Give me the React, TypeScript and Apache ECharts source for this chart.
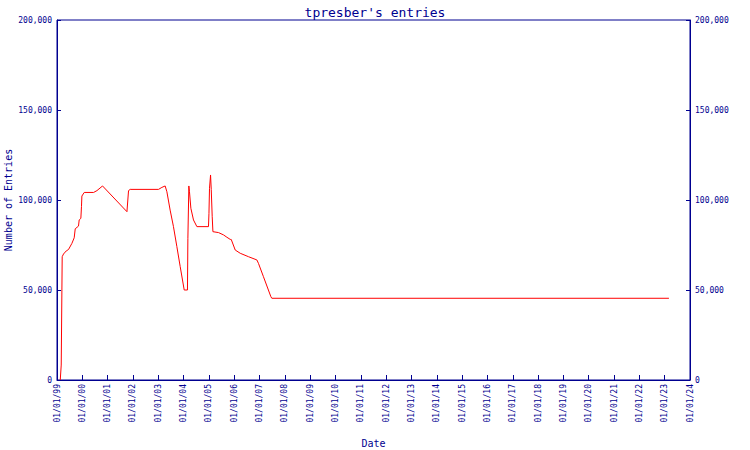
import React, { useEffect, useRef } from "react";
import * as echarts from "echarts";

const TITLE = "tpresber's entries";
const NAVY = "#000090";

const dates = [
  "1999-02-17", "1999-03-03", "1999-03-17", "1999-04-05", "1999-05-14", "1999-06-16",
  "1999-08-04", "1999-09-06", "1999-09-21", "1999-11-07", "1999-11-17", "1999-12-11",
  "1999-12-20", "1999-12-26", "2000-01-29", "2000-06-12", "2000-07-30", "2000-10-19",
  "2001-10-06", "2001-10-29", "2001-11-22", "2003-01-04", "2003-02-22", "2003-04-10",
  "2003-05-05", "2003-06-21", "2003-08-08", "2003-09-26", "2003-11-13", "2004-01-10",
  "2004-02-26", "2004-03-03", "2004-03-17", "2004-03-26", "2004-04-15", "2004-05-23",
  "2004-07-11", "2004-12-25", "2005-01-01", "2005-01-09", "2005-01-24", "2005-02-03",
  "2005-02-17", "2005-02-27", "2005-05-19", "2005-07-30", "2005-09-17", "2005-11-04",
  "2005-11-18", "2006-01-15", "2006-03-28", "2006-07-25", "2006-11-23", "2006-12-16",
  "2007-02-26", "2007-06-13", "2007-06-27", "2023-03-03",
];

const entries = [
  0, 8300, 68500, 70000, 71700, 72500,
  75900, 79000, 84000, 85500, 88900, 89800,
  96300, 102200, 104200, 104200, 105200, 107800,
  93500, 105200, 105900, 105900, 107000, 107800,
  104600, 94400, 85200, 74100, 63000, 50000,
  50000, 78700, 107800, 104600, 95400, 88900,
  85200, 85200, 92600, 106500, 113900, 105900,
  90700, 82400, 81900, 80600, 79300, 78100,
  78100, 72200, 70400, 68500, 66700, 64800,
  57400, 46300, 45400, 45400,
];

const yTicks = [0, 50000, 100000, 150000, 200000];

const FONT = "DejaVu Sans Mono";

function fmtNum(v: number): string {
  return v.toLocaleString("en-US");
}

function fmtDate(v: number): string {
  const d = new Date(v);
  const p = (n: number) => String(n).padStart(2, "0");
  return `${p(d.getMonth() + 1)}/${p(d.getDate())}/${p(d.getFullYear() % 100)}`;
}

export default function App() {
  const ref = useRef<HTMLDivElement>(null);
  useEffect(() => {
    if (!ref.current) return;
    const chart = echarts.init(ref.current, undefined, { renderer: "svg" });
    const DAY = 86400000;
    const yAxisCommon = {
      type: "value" as const,
      min: yTicks[0],
      max: yTicks[yTicks.length - 1],
      interval: yTicks[1] - yTicks[0],
      axisLine: { show: true, lineStyle: { color: NAVY, width: 1 } },
      axisTick: { show: true, inside: true, length: 4, lineStyle: { color: NAVY } },
      splitLine: { show: false },
      axisLabel: {
        color: NAVY,
        fontFamily: FONT,
        fontSize: 8,
        margin: 5,
        formatter: (v: number) => fmtNum(v),
      },
    };
    chart.setOption({
      animation: false,
      backgroundColor: "#ffffff",
      title: {
        text: TITLE,
        left: "center",
        top: 1,
        textStyle: { color: NAVY, fontFamily: FONT, fontSize: 13, fontWeight: "normal" },
      },
      grid: {
        left: 57,
        right: 60,
        top: 20,
        bottom: 70,
        show: true,
        borderColor: NAVY,
        borderWidth: 1,
        containLabel: false,
        outerBoundsMode: "none",
      },
      xAxis: {
        type: "time",
        min: new Date(1999, 0, 1).getTime(),
        max: new Date(2024, 0, 1).getTime(),
        minInterval: 365 * DAY,
        maxInterval: 366 * DAY,
        name: "Date",
        nameLocation: "middle",
        nameGap: 58,
        nameMoveOverlap: false,
        nameTextStyle: { color: NAVY, fontFamily: FONT, fontSize: 10 },
        axisLine: { show: true, lineStyle: { color: NAVY, width: 1 } },
        axisTick: { show: true, inside: true, length: 5, lineStyle: { color: NAVY } },
        splitLine: { show: false },
        axisLabel: {
          color: NAVY,
          fontFamily: FONT,
          fontSize: 8,
          rotate: 90,
          margin: 4,
          hideOverlap: false,
          showMinLabel: true,
          showMaxLabel: true,
          formatter: (v: number) => fmtDate(v),
        },
      },
      yAxis: [
        {
          ...yAxisCommon,
          position: "left",
          name: "Number of Entries",
          nameLocation: "middle",
          nameGap: 44,
          nameMoveOverlap: false,
          nameTextStyle: { color: NAVY, fontFamily: FONT, fontSize: 10 },
        },
        { ...yAxisCommon, position: "right" },
      ],
      series: [
        {
          type: "line",
          data: dates.map((d, i) => [d, entries[i]]),
          showSymbol: false,
          symbol: "none",
          lineStyle: { color: "#ff0000", width: 1 },
          itemStyle: { color: "#ff0000" },
        },
      ],
    });
    return () => chart.dispose();
  }, []);
  return <div ref={ref} style={{ width: 750, height: 450, position: "absolute", left: 0, top: 0 }} />;
}
